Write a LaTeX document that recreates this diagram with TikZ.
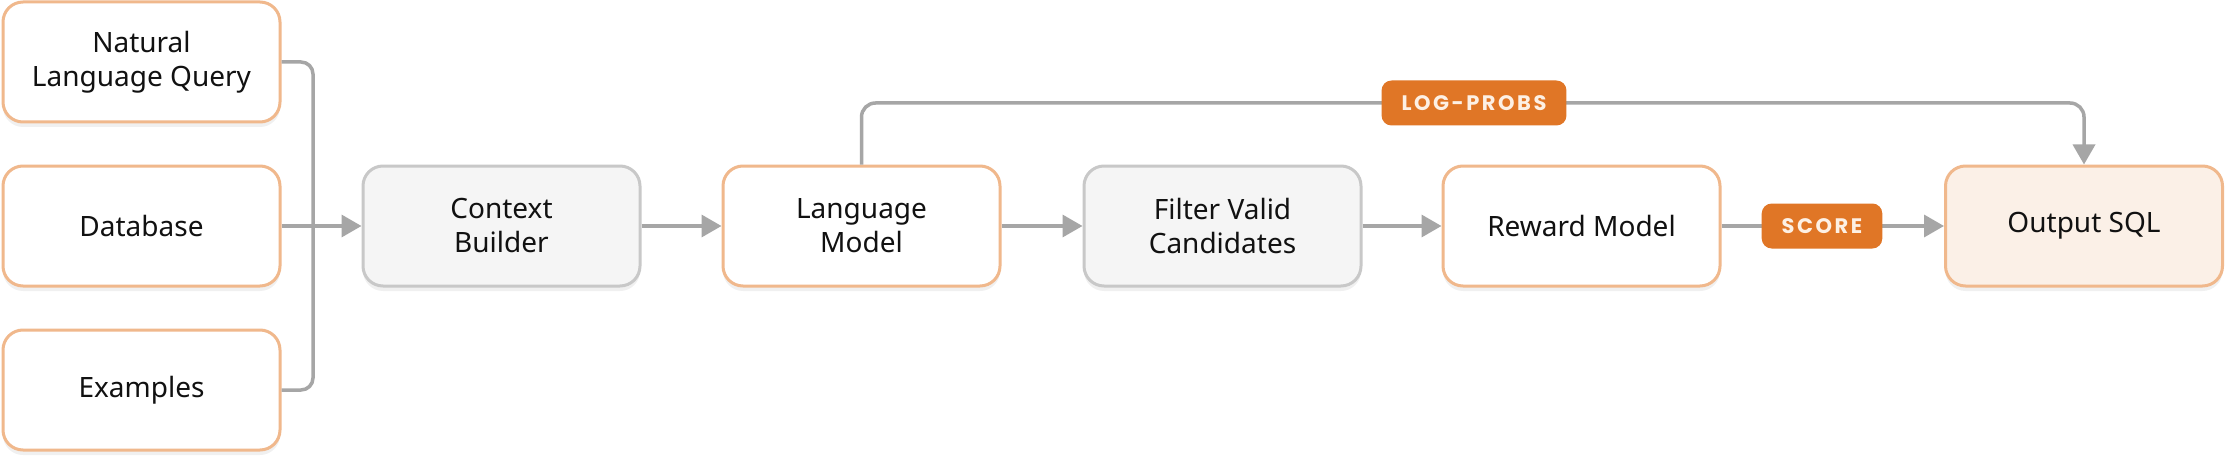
\documentclass[tikz,border=0pt]{standalone}
\usepackage{fontspec}
\setmainfont{Noto Sans}
\newfontfamily\pillfont[LetterSpace=12]{Poppins}
\usetikzlibrary{arrows.meta,shadows}
\definecolor{orangeb}{RGB}{240,184,140}
\definecolor{grayb}{RGB}{200,200,200}
\definecolor{grayf}{RGB}{245,245,245}
\definecolor{outf}{RGB}{251,240,231}
\definecolor{pillc}{RGB}{224,118,38}
\definecolor{pillt}{RGB}{253,240,228}
\definecolor{linec}{RGB}{166,166,166}
\definecolor{txt}{RGB}{17,17,17}
\begin{document}
\begin{tikzpicture}[x=1pt,y=-1pt,
  box/.style={draw=orangeb, line width=3pt, rounded corners=20pt, fill=white,
    minimum width=277pt, minimum height=120pt, align=center,
    font=\fontsize{28}{34}\selectfont, text=txt,
    drop shadow={shadow xshift=0pt, shadow yshift=-5pt, opacity=0.06, fill=black}},
  gbox/.style={box, draw=grayb, fill=grayf},
  obox/.style={box, fill=outf},
  conn/.style={draw=linec, line width=3.5pt},
  arr/.style={conn, -{Triangle[length=20pt,width=22pt]}},
  pill/.style={fill=pillc, rounded corners=10pt, text=pillt,
    font=\pillfont\bfseries\fontsize{21}{24}\selectfont,
    minimum height=45pt, inner xsep=20pt, inner ysep=0pt}]
\useasboundingbox (0,0) rectangle (2238,468);
\fill[white] (0,0) rectangle (2238,468);
% input nodes
\node[box] (nl) at (141.5,62) {Natural\\Language Query};
\node[box] (db) at (141.5,226) {Database};
\node[box] (ex) at (141.5,390) {Examples};
% main row
\node[gbox] (cb) at (501.5,226) {Context\\Builder};
\node[box] (lm) at (861.5,226) {Language\\Model};
\node[gbox] (fv) at (1222.5,226) {Filter Valid\\Candidates};
\node[box] (rm) at (1581.5,226) {Reward Model};
\node[obox] (out) at (2084,226) {Output SQL};
% junction
\coordinate (jn) at (313,226);
\coordinate (top) at (1472,103);
\draw[conn, rounded corners=12pt] (nl.east) -| (jn) |- (ex.east);
\draw[arr] (db.east) -- (cb.west);
\draw[arr] (cb.east) -- (lm.west);
\draw[arr] (lm.east) -- (fv.west);
\draw[arr] (fv.east) -- (rm.west);
\draw[arr, rounded corners=14pt] (lm.north) |- (top) -| (out.north);
\draw[arr] (rm.east) -- (out.west);
\node[pill] (lp) at (1474,103) {LOG-PROBS};
\node[pill] (sc) at (1822,226) {SCORE};
\end{tikzpicture}
\end{document}
